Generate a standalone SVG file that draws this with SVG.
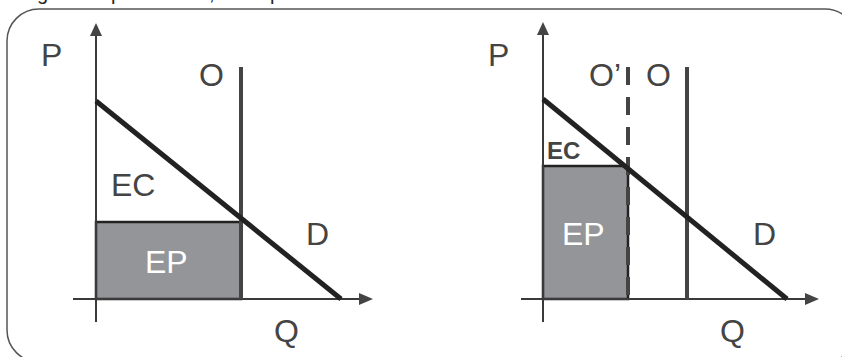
<svg xmlns="http://www.w3.org/2000/svg" width="842" height="357" viewBox="0 0 842 357">
<defs>
<style>
.lbl{font-family:"Liberation Sans",Arial,sans-serif;font-size:32px;fill:#444}
.wht{font-family:"Liberation Sans",Arial,sans-serif;font-size:32px;fill:#fff}
.axis{stroke:#3a3a3a;stroke-width:2;fill:none}
.dem{stroke:#222;stroke-width:5;fill:none}
.sup{stroke:#444;stroke-width:4;fill:none}
.ep{fill:#939598;stroke:#222;stroke-width:2.5}
.head{fill:#444}
</style>
</defs>
<rect x="7" y="9" width="850" height="353" rx="32" ry="32" fill="none" stroke="#555" stroke-width="1.5"/>
<text font-family="'Liberation Sans',Arial,sans-serif" font-size="20" fill="#222" y="0"><tspan x="37">g</tspan><tspan x="111">p</tspan><tspan x="209">,</tspan><tspan x="270">p</tspan></text>

<g id="left-chart">
  <g id="left-ep"><rect class="ep" x="96" y="222" width="145" height="77"/></g>
  <g id="left-connectors">
    <line class="axis" x1="96" y1="322" x2="96" y2="34"/>
    <polygon class="head" points="96,23 90,36 102,36"/>
    <line class="axis" x1="73" y1="299" x2="360" y2="299"/>
    <polygon class="head" points="373,299 359,293 359,305"/>
    <line class="sup" x1="241" y1="67" x2="241" y2="299"/>
    <line class="dem" x1="96" y1="101" x2="341" y2="299"/>
  </g>
  <text class="lbl" x="41" y="66">P</text>
  <text class="lbl" x="199" y="86">O</text>
  <text class="lbl" x="111" y="196">EC</text>
  <text class="wht" x="145" y="273">EP</text>
  <text class="lbl" x="306" y="245">D</text>
  <text class="lbl" x="274" y="342">Q</text>
</g>

<g id="right-chart">
  <g id="right-ep"><rect class="ep" x="543" y="166" width="85" height="133"/></g>
  <g id="right-connectors">
    <line class="axis" x1="543" y1="322" x2="543" y2="34"/>
    <polygon class="head" points="543,22 537,35 549,35"/>
    <line class="axis" x1="521" y1="299" x2="806" y2="299"/>
    <polygon class="head" points="819,299 805,293 805,305"/>
    <line class="sup" x1="628" y1="67" x2="628" y2="299" stroke-dasharray="18,12"/>
    <line class="sup" x1="687" y1="67" x2="687" y2="299"/>
    <line class="dem" x1="543" y1="99" x2="787" y2="299"/>
  </g>
  <text class="lbl" x="488" y="66">P</text>
  <text class="lbl" x="589" y="86">O’</text>
  <text class="lbl" x="646" y="86">O</text>
  <text class="lbl" x="547" y="159" style="font-size:24px;font-weight:bold">EC</text>
  <text class="wht" x="562" y="245">EP</text>
  <text class="lbl" x="753" y="245">D</text>
  <text class="lbl" x="720" y="342">Q</text>
</g>
</svg>
